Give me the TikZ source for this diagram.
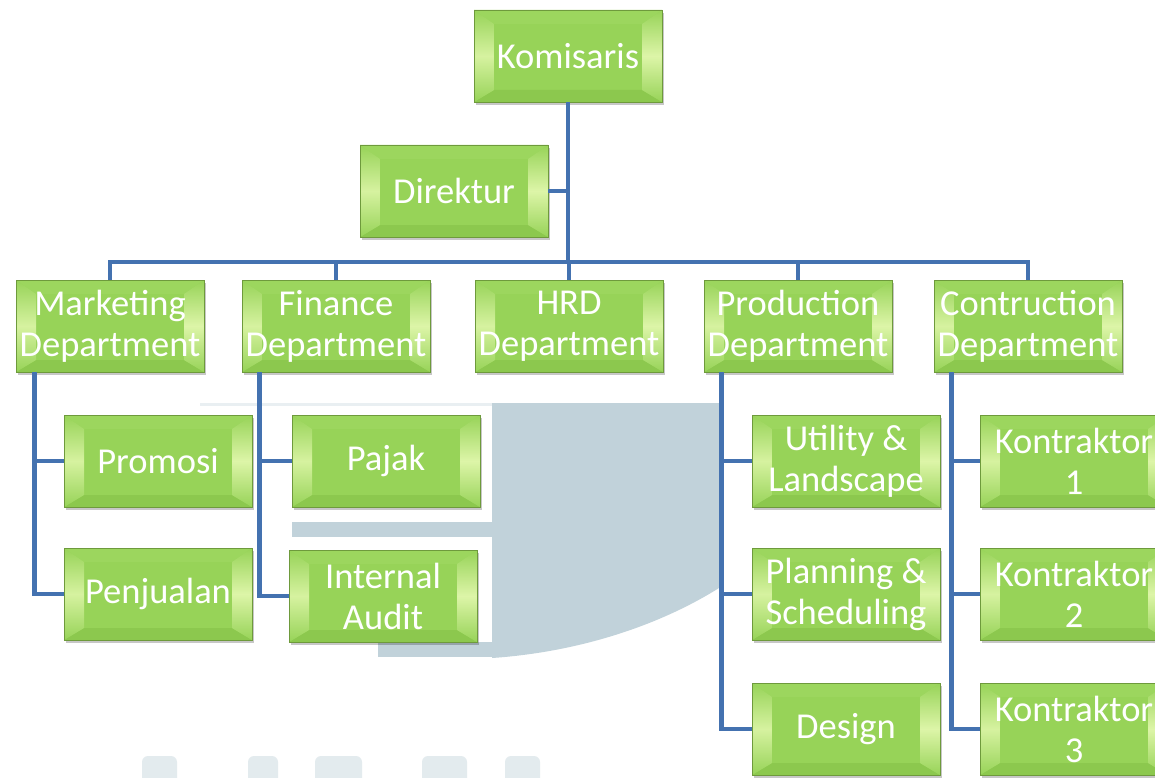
\documentclass[tikz,border=0pt]{standalone}
\usepackage{fontspec}
\setmainfont{Carlito}
\usetikzlibrary{shadows}
\definecolor{face}{HTML}{97D358}
\definecolor{edgegreen}{HTML}{6E9A3C}
\definecolor{bvtop}{HTML}{9CD65E}
\definecolor{bvleft}{HTML}{D6F2A0}
\definecolor{bvright}{HTML}{DDF5A8}
\definecolor{bvbottom}{HTML}{8CC84E}
\definecolor{linkblue}{HTML}{4472B0}
\definecolor{wm}{HTML}{C1D2DA}
\tikzset{
  bx/.style={minimum width=188pt, minimum height=92pt, inner sep=0pt,
    fill=face, draw=edgegreen, line width=0.8pt, text=white,
    font=\fontsize{36.5}{41}\selectfont, align=center,
    drop shadow={shadow xshift=1.5pt, shadow yshift=-3pt, fill=black, opacity=0.22},
    path picture={
      \def\pb{path picture bounding box}
      \fill[bvtop] (\pb.north west) -- (\pb.north east) -- ([xshift=-20pt,yshift=-14pt]\pb.north east) -- ([xshift=20pt,yshift=-14pt]\pb.north west) -- cycle;
      \fill[bvbottom] (\pb.south west) -- (\pb.south east) -- ([xshift=-20pt,yshift=12pt]\pb.south east) -- ([xshift=20pt,yshift=12pt]\pb.south west) -- cycle;
      \shade[top color=face, bottom color=face, middle color=bvleft] (\pb.north west) -- ([xshift=20pt,yshift=-14pt]\pb.north west) -- ([xshift=20pt,yshift=12pt]\pb.south west) -- (\pb.south west) -- cycle;
      \shade[top color=face, bottom color=face, middle color=bvright] (\pb.north east) -- ([xshift=-20pt,yshift=-14pt]\pb.north east) -- ([xshift=-20pt,yshift=12pt]\pb.south east) -- (\pb.south east) -- cycle;
    }},
  conn/.style={draw=linkblue, line width=4.5pt, line join=miter}
}
\begin{document}
\begin{tikzpicture}[x=1pt,y=-1pt]
\useasboundingbox[fill=white] (0,0) rectangle (1155,778);
% faint watermark
\fill[wm] (492,403) -- (719,403) -- (719,588) .. controls (660,625) and (580,652) .. (492,658) -- cycle;
\fill[wm] (292,522) rectangle (492,537);
\fill[wm] (378,642) rectangle (492,657);
\fill[wm!35] (200,403) rectangle (492,406);
\foreach \a/\b in {142/177,248/278,315/362,422/467,505/540}
  \fill[wm!45, rounded corners=6pt] (\a,756) rectangle (\b,795);

% nodes
\node[bx] (kom) at (568,56) {Komisaris};
\node[bx] (dir) at (454,191) {Direktur};
\node[bx] (mkt) at (110,326) {Marketing\\Department};
\node[bx] (fin) at (336,326) {Finance\\Department};
\node[bx] (hrd) at (569,326) {HRD\\Department};
\node[bx] (prod) at (798,326) {Production\\Department};
\node[bx] (cons) at (1028,326) {Contruction\\Department};
\node[bx] (prom) at (158,461) {Promosi};
\node[bx] (penj) at (158,594) {Penjualan};
\node[bx] (pajak) at (386,461) {Pajak};
\node[bx] (audit) at (383,596) {Internal\\Audit};
\node[bx] (util) at (846,461) {Utility \&\\Landscape};
\node[bx] (plan) at (846,594) {Planning \&\\Scheduling};
\node[bx] (design) at (846,729) {Design};
\node[bx] (k1) at (1074,461) {Kontraktor\\1};
\node[bx] (k2) at (1074,594) {Kontraktor\\2};
\node[bx] (k3) at (1074,729) {Kontraktor\\3};

% connectors
\coordinate (bus) at (0,262);
\draw[conn] (mkt.north) -- (mkt.north |- bus) -- (cons.north |- bus) -- (cons.north);
\draw[conn] (fin.north) -- (fin.north |- bus);
\draw[conn] (hrd.north) -- (hrd.north |- bus);
\draw[conn] (prod.north) -- (prod.north |- bus);
\draw[conn] (kom.south) -- (kom.south |- bus);
\draw[conn] (dir.east) -- (dir.east -| kom.south);

\coordinate (mx) at ([xshift=19pt]mkt.south west);
\draw[conn] (mx) |- (penj.west);
\draw[conn] (mx |- prom.west) -- (prom.west);

\coordinate (fx) at ([xshift=18pt]fin.south west);
\draw[conn] (fx) |- (audit.west);
\draw[conn] (fx |- pajak.west) -- (pajak.west);

\coordinate (px) at ([xshift=18pt]prod.south west);
\draw[conn] (px) |- (design.west);
\draw[conn] (px |- util.west) -- (util.west);
\draw[conn] (px |- plan.west) -- (plan.west);

\coordinate (cx) at ([xshift=18pt]cons.south west);
\draw[conn] (cx) |- (k3.west);
\draw[conn] (cx |- k1.west) -- (k1.west);
\draw[conn] (cx |- k2.west) -- (k2.west);
\end{tikzpicture}
\end{document}
